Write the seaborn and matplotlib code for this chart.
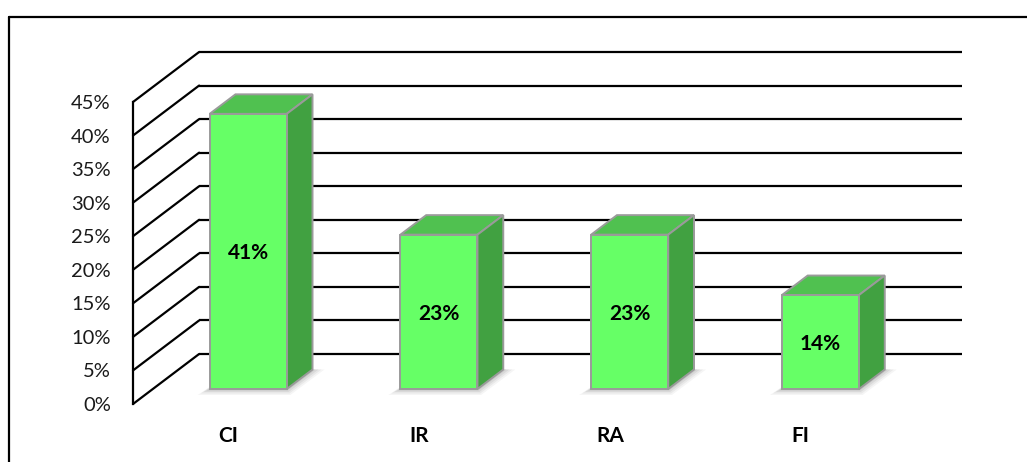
import matplotlib
matplotlib.use("Agg")
import matplotlib.pyplot as plt
from matplotlib.patches import Polygon
from matplotlib.lines import Line2D
import seaborn as sns

# Data
categories = ["CI", "IR", "RA", "FI"]
values = [41, 23, 23, 14]
value_labels = ["41%", "23%", "23%", "14%"]
tick_values = [0, 5, 10, 15, 20, 25, 30, 35, 40, 45]
tick_labels = ["0%", "5%", "10%", "15%", "20%", "25%", "30%", "35%", "40%", "45%"]

sns.set_style("white")
plt.rcParams["font.family"] = ["Lato", "DejaVu Sans"]

fig = plt.figure(figsize=(10.27, 4.62), dpi=100)
ax = fig.add_axes([133 / 1027, 58 / 462, 763 / 1027, 302 / 462])

# oblique depth of the plot box (in data units): x in categories, y in percent
DX = 0.3465
DY = 7.45
bar_w = 0.404
d_front = 0.30
d_back = 0.69

front_col = "#66FF66"
top_col = "#50C150"
side_col = "#41A141"
edge_col = "#9A9A9A"

# Front faces of the bars
sns.barplot(x=categories, y=values, ax=ax, width=bar_w, color=front_col,
            edgecolor=edge_col, linewidth=1.4, saturation=1, zorder=5)

for p in ax.patches:
    p.set_x(p.get_x() + d_front * DX)
    p.set_y(d_front * DY)
    p.set_clip_on(False)

# Back wall grid and side wall diagonals
for v in tick_values:
    ax.plot([-0.5 + DX, 3.5 + DX], [v + DY, v + DY], color="black", lw=1.6,
            zorder=1, clip_on=False, solid_capstyle="butt")
    ax.plot([-0.5, -0.5 + DX], [v, v + DY], color="black", lw=1.6,
            zorder=1, clip_on=False)

# Bar depth: shadow, top and side faces, value labels
px_x = 1 / 190.5
px_y = 1 / 6.711
for i, (v, lab) in enumerate(zip(values, value_labels)):
    xl = i - bar_w / 2
    xr = i + bar_w / 2
    fx0, fx1 = xl + d_front * DX, xr + d_front * DX
    bx0, bx1 = xl + d_back * DX, xr + d_back * DX
    fy, by = d_front * DY, d_back * DY

    # soft shadow on the floor
    for k, a in zip([12, 9, 6, 3], [0.06, 0.08, 0.10, 0.12]):
        ex, ey = k * px_x, k * px_y
        ax.add_patch(Polygon([(fx0 - ex, fy - ey * 0.5), (fx1 + ex * 0.3, fy - ey * 0.5),
                              (bx1 + ex, by), (bx0, by)],
                             closed=True, facecolor="#555555", edgecolor="none",
                             alpha=a, zorder=2, clip_on=False))

    ax.add_patch(Polygon([(fx0, fy + v), (fx1, fy + v), (bx1, by + v), (bx0, by + v)],
                         closed=True, facecolor=top_col, edgecolor=edge_col,
                         lw=1.4, zorder=4, clip_on=False, joinstyle="miter"))
    ax.add_patch(Polygon([(fx1, fy), (bx1, by), (bx1, by + v), (fx1, fy + v)],
                         closed=True, facecolor=side_col, edgecolor=edge_col,
                         lw=1.4, zorder=4, clip_on=False, joinstyle="miter"))
    ax.text((fx0 + fx1) / 2, fy + v / 2 - 0.3, lab, ha="center", va="center",
            fontsize=15, fontweight="bold", color="black", zorder=6)

ax.set_xlim(-0.5, 3.5)
ax.set_ylim(0, 45)
ax.set_yticks(tick_values)
ax.set_yticklabels(tick_labels, fontsize=14.5, color="#1a1a1a")
ax.set_xticks(range(len(categories)))
ax.set_xticklabels(categories, fontsize=15, fontweight="bold", color="black")
ax.tick_params(axis="y", length=0, pad=16)
ax.tick_params(axis="x", length=0, pad=16)
ax.set_xlabel("")
ax.set_ylabel("")
for side in ["top", "right", "bottom"]:
    ax.spines[side].set_visible(False)
ax.spines["left"].set_color("black")
ax.spines["left"].set_linewidth(1.6)
ax.patch.set_alpha(0)

# Chart frame (left and top edges)
fig.add_artist(Line2D([9 / 1027, 9 / 1027], [0, 1 - 17 / 462], color="black",
                      lw=1.6, transform=fig.transFigure))
fig.add_artist(Line2D([9 / 1027, 1], [1 - 17 / 462, 1 - 17 / 462], color="black",
                      lw=1.6, transform=fig.transFigure))

fig.savefig("out.png", dpi=100)
